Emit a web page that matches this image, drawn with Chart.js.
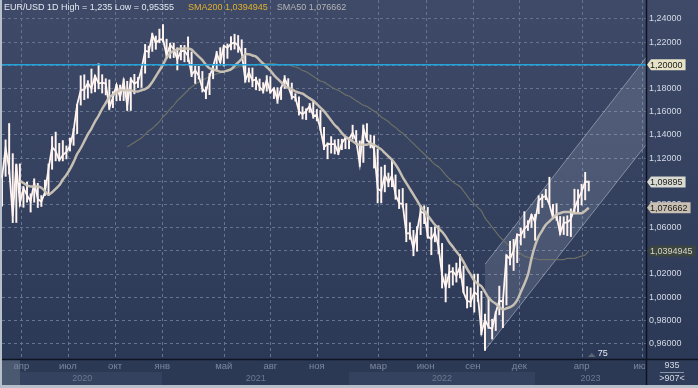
<!DOCTYPE html>
<html lang="ru">
<head>
<meta charset="utf-8">
<title>EUR/USD 1D</title>
<script src="https://cdn.jsdelivr.net/npm/chart.js@4.4.1/dist/chart.umd.min.js"></script>
<style>
  html, body { margin: 0; padding: 0; background: #b7bfca; }
  canvas { display: block; }
</style>
</head>
<body>
<canvas id="priceChart" width="698" height="388"></canvas>
<script>
// weekly slots: trading weeks from 24 Feb 2020, then 5-day slots into the future
const DAY = 86400000;
const slotTimes = [];
for (let i = 0; i < 165; i++) slotTimes.push(Date.UTC(2020, 1, 24) + i * 7 * DAY);
for (let i = 0; i < 16; i++) slotTimes.push(Date.UTC(2023, 3, 24) + i * 5 * DAY);
const weeks = slotTimes.map(t => new Date(t).toISOString().slice(0, 10));

// weekly low / high / close of EUR/USD
const weekLow = [
  1.0778, 1.1035, 1.1054, 1.0636, 1.0637, 1.0778, 1.0768, 1.0812, 1.0727, 1.0812,
  1.0766, 1.0775, 1.0870, 1.0870, 1.1096, 1.1168, 1.1168, 1.1168, 1.1185, 1.1253,
  1.1302, 1.1403, 1.1649, 1.1696, 1.1709, 1.1753, 1.1763, 1.1789, 1.1753, 1.1737,
  1.1612, 1.1627, 1.1685, 1.1689, 1.1688, 1.1602, 1.1603, 1.1746, 1.1800, 1.1801,
  1.1924, 1.2058, 1.2112, 1.2130, 1.2186,
  1.2193, 1.2054, 1.2053, 1.2059, 1.1952, 1.2039, 1.2022, 1.2023, 1.1894, 1.1836,
  1.1873, 1.1762, 1.1704, 1.1739, 1.1876, 1.1955, 1.2015, 1.1986, 1.2052, 1.2125,
  1.2132, 1.2104, 1.2093, 1.1846, 1.1848, 1.1807, 1.1781, 1.1773, 1.1752, 1.1769,
  1.1752, 1.1705, 1.1664, 1.1697, 1.1792, 1.1800, 1.1700, 1.1684, 1.1563, 1.1529,
  1.1524, 1.1586, 1.1535, 1.1513, 1.1432, 1.1264, 1.1186, 1.1235, 1.1228, 1.1222,
  1.1265, 1.1273,
  1.1272, 1.1355, 1.1310, 1.1121, 1.1155, 1.1340, 1.1280, 1.1106, 1.0806, 1.0806,
  1.0901, 1.0945, 1.0945, 1.0837, 1.0757, 1.0770, 1.0471, 1.0492, 1.0350, 1.0389,
  1.0532, 1.0627, 1.0500, 1.0359, 1.0470, 1.0366, 1.0072, 0.9952, 1.0074, 1.0097,
  1.0123, 1.0159, 1.0033, 0.9900, 0.9910, 0.9864, 0.9956, 0.9669, 0.9535, 0.9723,
  0.9632, 0.9705, 0.9841, 0.9730, 0.9926, 1.0271, 1.0223, 1.0291, 1.0443, 1.0504,
  1.0568, 1.0594,
  1.0483, 1.0713, 1.0766, 1.0834, 1.0796, 1.0669, 1.0655, 1.0533, 1.0533, 1.0524,
  1.0516, 1.0712, 1.0714, 1.0788, 1.0832, 1.0909
];
const weekHigh = [
  1.1053, 1.1355, 1.1496, 1.1236, 1.1147, 1.1148, 1.0953, 1.0990, 1.0890, 1.1019,
  1.0980, 1.0875, 1.1008, 1.1147, 1.1384, 1.1422, 1.1325, 1.1349, 1.1303, 1.1371,
  1.1452, 1.1660, 1.1908, 1.1916, 1.1866, 1.1966, 1.1911, 1.2011, 1.1917, 1.1882,
  1.1872, 1.1771, 1.1831, 1.1828, 1.1881, 1.1860, 1.1891, 1.1920, 1.1893, 1.1964,
  1.2178, 1.2163, 1.2273, 1.2250, 1.2310,
  1.2349, 1.2223, 1.2189, 1.2190, 1.2149, 1.2170, 1.2169, 1.2243, 1.2113, 1.1990,
  1.1989, 1.1945, 1.1812, 1.1927, 1.1995, 1.2117, 1.2150, 1.2167, 1.2182, 1.2245,
  1.2266, 1.2255, 1.2218, 1.2144, 1.1975, 1.1975, 1.1896, 1.1880, 1.1849, 1.1909,
  1.1900, 1.1803, 1.1805, 1.1810, 1.1909, 1.1883, 1.1845, 1.1753, 1.1726, 1.1641,
  1.1624, 1.1669, 1.1692, 1.1617, 1.1609, 1.1464, 1.1330, 1.1383, 1.1355, 1.1360,
  1.1361, 1.1386,
  1.1368, 1.1482, 1.1436, 1.1346, 1.1483, 1.1495, 1.1395, 1.1390, 1.1275, 1.1121,
  1.1137, 1.1069, 1.1185, 1.1053, 1.0925, 1.0936, 1.0806, 1.0641, 1.0575, 1.0607,
  1.0787, 1.0787, 1.0773, 1.0601, 1.0606, 1.0615, 1.0462, 1.0200, 1.0278, 1.0254,
  1.0293, 1.0368, 1.0267, 1.0090, 1.0079, 1.0198, 1.0198, 1.0050, 0.9853, 0.9999,
  0.9809, 0.9873, 1.0094, 0.9976, 1.0364, 1.0481, 1.0497, 1.0545, 1.0595, 1.0736,
  1.0659, 1.0713,
  1.0713, 1.0874, 1.0887, 1.0929, 1.1033, 1.0799, 1.0805, 1.0695, 1.0692, 1.0701,
  1.0760, 1.0930, 1.0926, 1.0973, 1.1075, 1.1000
];
const weekClose = [
  1.1026, 1.1284, 1.1104, 1.0693, 1.1141, 1.0804, 1.0936, 1.0875, 1.0823, 1.0983,
  1.0843, 1.0819, 1.0901, 1.1101, 1.1290, 1.1255, 1.1177, 1.1220, 1.1248, 1.1300,
  1.1427, 1.1656, 1.1778, 1.1786, 1.1842, 1.1795, 1.1904, 1.1838, 1.1846, 1.1838,
  1.1631, 1.1716, 1.1826, 1.1717, 1.1860, 1.1646, 1.1875, 1.1835, 1.1855, 1.1962,
  1.2121, 1.2111, 1.2258, 1.2188, 1.2216,
  1.2219, 1.2082, 1.2170, 1.2136, 1.2046, 1.2118, 1.2120, 1.2075, 1.1914, 1.1952,
  1.1904, 1.1794, 1.1762, 1.1899, 1.1983, 1.2098, 1.2020, 1.2164, 1.2145, 1.2180,
  1.2192, 1.2166, 1.2107, 1.1865, 1.1936, 1.1863, 1.1874, 1.1808, 1.1773, 1.1870,
  1.1762, 1.1796, 1.1697, 1.1795, 1.1881, 1.1813, 1.1726, 1.1718, 1.1598, 1.1573,
  1.1599, 1.1644, 1.1559, 1.1567, 1.1445, 1.1289, 1.1318, 1.1315, 1.1315, 1.1238,
  1.1323, 1.1370,
  1.1360, 1.1412, 1.1345, 1.1145, 1.1453, 1.1349, 1.1322, 1.1270, 1.0930, 1.0911,
  1.1051, 1.0983, 1.1046, 1.0876, 1.0808, 1.0798, 1.0546, 1.0548, 1.0411, 1.0562,
  1.0733, 1.0720, 1.0522, 1.0496, 1.0554, 1.0435, 1.0187, 1.0081, 1.0211, 1.0220,
  1.0180, 1.0258, 1.0037, 0.9964, 0.9953, 1.0040, 1.0014, 0.9690, 0.9801, 0.9738,
  0.9722, 0.9862, 0.9965, 0.9959, 1.0355, 1.0325, 1.0398, 1.0535, 1.0530, 1.0585,
  1.0617, 1.0705,
  1.0644, 1.0830, 1.0855, 1.0868, 1.0796, 1.0679, 1.0695, 1.0545, 1.0636, 1.0640,
  1.0669, 1.0760, 1.0839, 1.0903, 1.0993, 1.09895
];

// SMA50 starts at week 5, SMA200 at week 35
const sma50Start = 5;
const sma50 = [
  1.100, 1.098, 1.096, 1.095, 1.095, 1.095, 1.094, 1.091, 1.088, 1.090,
  1.093, 1.096, 1.101, 1.105, 1.110, 1.116, 1.123, 1.128, 1.134, 1.140,
  1.145, 1.151, 1.156, 1.162, 1.167, 1.172, 1.174, 1.176, 1.178, 1.178,
  1.178, 1.178, 1.177, 1.177, 1.178, 1.179, 1.181, 1.185, 1.190, 1.195,
  1.200, 1.206, 1.210, 1.212, 1.213, 1.214, 1.214, 1.214, 1.213, 1.210,
  1.207, 1.204, 1.200, 1.197, 1.196, 1.195, 1.194, 1.194, 1.195, 1.196,
  1.199, 1.202, 1.205, 1.209, 1.209, 1.208, 1.207, 1.204, 1.201, 1.198,
  1.195, 1.191, 1.188, 1.185, 1.182, 1.180, 1.179, 1.177, 1.176, 1.175,
  1.173, 1.171, 1.169, 1.166, 1.163, 1.160, 1.156, 1.152, 1.148, 1.145,
  1.141, 1.138, 1.136, 1.134, 1.132, 1.131, 1.131, 1.131, 1.132, 1.131,
  1.129, 1.127, 1.124, 1.121, 1.118, 1.114, 1.109, 1.103, 1.098, 1.093,
  1.088, 1.083, 1.078, 1.074, 1.070, 1.066, 1.062, 1.059, 1.056, 1.052,
  1.047, 1.043, 1.039, 1.035, 1.030, 1.024, 1.019, 1.014, 1.011, 1.009,
  1.004, 0.999, 0.996, 0.994, 0.991, 0.989, 0.990, 0.991, 0.993, 0.997,
  1.004, 1.011, 1.019, 1.033, 1.044, 1.052, 1.057, 1.062, 1.065, 1.068,
  1.071, 1.072, 1.073, 1.073, 1.073, 1.072, 1.072, 1.072, 1.074, 1.076662
];
const sma200Start = 35;
const sma200 = [
  1.129, 1.131, 1.133, 1.135, 1.137, 1.140, 1.143, 1.145, 1.148, 1.151,
  1.155, 1.158, 1.162, 1.165, 1.169, 1.172, 1.175, 1.178, 1.181, 1.183,
  1.185, 1.187, 1.188, 1.190, 1.191, 1.192, 1.193, 1.194, 1.195, 1.196,
  1.197, 1.198, 1.199, 1.199, 1.200, 1.200, 1.200, 1.2006, 1.201, 1.201,
  1.201, 1.201, 1.200, 1.200, 1.200, 1.200, 1.199, 1.198, 1.197, 1.195,
  1.194, 1.192, 1.190, 1.188, 1.186, 1.185, 1.183, 1.181, 1.179, 1.178,
  1.176, 1.174, 1.173, 1.171, 1.169, 1.167, 1.165, 1.164, 1.162, 1.160,
  1.158, 1.155, 1.153, 1.151, 1.148, 1.146, 1.143, 1.141, 1.138, 1.135,
  1.132, 1.129, 1.126, 1.123, 1.120, 1.117, 1.114, 1.112, 1.109, 1.105,
  1.102, 1.099, 1.097, 1.095, 1.091, 1.087, 1.083, 1.080, 1.077, 1.074,
  1.068, 1.064, 1.060, 1.056, 1.052, 1.049, 1.046, 1.043, 1.040, 1.038,
  1.037, 1.035, 1.034, 1.033, 1.033, 1.032, 1.032, 1.032, 1.032, 1.032,
  1.032, 1.032, 1.032, 1.033, 1.033, 1.033, 1.034, 1.035, 1.036, 1.0394945
];

const levelLine = 1.2;
// rising channel: [start week, end slot], lower and upper bounds at each end
const channelWeeks = ['2022-09-26', '2023-07-08'];
const channelLow = [0.954, 1.131];
const channelHigh = [1.028, 1.206];

const yTicks = [0.96, 0.98, 1.00, 1.02, 1.04, 1.06, 1.08, 1.10, 1.12, 1.14, 1.16, 1.18, 1.20, 1.22, 1.24];
const monthNames = ['янв', 'фев', 'мар', 'апр', 'май', 'июн', 'июл', 'авг', 'сен', 'окт', 'ноя', 'дек'];
const axisMonths = ['2020-04', '2020-07', '2020-10', '2021-01', '2021-05', '2021-08', '2021-11',
  '2022-03', '2022-06', '2022-09', '2022-12', '2023-04', '2023-07'];
const yearLabels = ['2020', '2021', '2022', '2023'];

const FONT = '"Liberation Sans", Arial, sans-serif';
const fmt = v => v.toFixed(5).replace('.', ',');

// fractional slot index of the first trading day of a month
function monthPos(ym) {
  const [y, m] = ym.split('-').map(Number);
  let d = Date.UTC(y, m - 1, 1);
  while ([0, 6].includes(new Date(d).getUTCDay())) d += DAY;
  let k = 0;
  while (k < slotTimes.length - 1 && slotTimes[k + 1] <= d) k++;
  const span = k < slotTimes.length - 1 ? (slotTimes[k + 1] - slotTimes[k]) / DAY : 7;
  const step = span === 7 ? 5 : span;
  return k + Math.min((d - slotTimes[k]) / DAY / step, 1);
}

function pad(arr, start) {
  return Array(start).fill(null).concat(arr);
}
function channelLine(vals) {
  const out = Array(weeks.length).fill(null);
  channelWeeks.forEach((w, i) => { out[weeks.indexOf(w)] = vals[i]; });
  return out;
}

function tag(ctx, x, y, text, bg, fg) {
  ctx.font = '9px ' + FONT;
  const w = ctx.measureText(text).width;
  ctx.beginPath();
  ctx.moveTo(x, y);
  ctx.lineTo(x + 4, y - 5.5);
  ctx.lineTo(x + w + 6, y - 5.5);
  ctx.lineTo(x + w + 6, y + 5.5);
  ctx.lineTo(x + 4, y + 5.5);
  ctx.closePath();
  ctx.fillStyle = bg;
  ctx.fill();
  ctx.fillStyle = fg;
  ctx.textAlign = 'left';
  ctx.textBaseline = 'middle';
  ctx.fillText(text, x + 3, y + 0.5);
}

const backdrop = {
  id: 'backdrop',
  beforeDraw(chart) {
    const { ctx, chartArea: a, width } = chart;
    const xs = chart.scales.x, ys = chart.scales.y;
    ctx.save();
    // plot background
    const g = ctx.createLinearGradient(0, 0, 0, a.bottom);
    g.addColorStop(0, '#3e4a68');
    g.addColorStop(1, '#2b3856');
    ctx.fillStyle = g;
    ctx.fillRect(a.left, 0, width - a.left, a.bottom);
    // time axis rows
    ctx.fillStyle = '#2c3955';
    ctx.fillRect(a.left, a.bottom, width - a.left, 26);
    yearLabels.forEach((yr, i) => {
      const x0 = i === 0 ? a.left : xs.getPixelForValue(monthPos(yr + '-01'));
      const x1 = i === yearLabels.length - 1 ? a.right : xs.getPixelForValue(monthPos(yearLabels[i + 1] + '-01'));
      ctx.fillStyle = i % 2 === 0 ? '#34425f' : '#2c3955';
      ctx.fillRect(x0, a.bottom + 13, x1 - x0, 13);
    });
    ctx.fillStyle = '#4a5870';
    ctx.fillRect(a.left, a.bottom, 18, 26);
    ctx.fillStyle = '#2f3c59';
    ctx.fillRect(a.right, a.bottom, width - a.right, 26);
    // dashed grid
    ctx.strokeStyle = '#66748f';
    ctx.lineWidth = 1;
    ctx.setLineDash([3, 3]);
    yTicks.forEach(v => {
      const y = Math.round(ys.getPixelForValue(v)) + 0.5;
      ctx.beginPath(); ctx.moveTo(a.left, y); ctx.lineTo(a.right, y); ctx.stroke();
    });
    axisMonths.forEach(ym => {
      const x = Math.round(xs.getPixelForValue(monthPos(ym))) + 0.5;
      ctx.beginPath(); ctx.moveTo(x, 0); ctx.lineTo(x, a.bottom); ctx.stroke();
    });
    ctx.restore();
  },
  afterDatasetsDraw(chart) {
    const { ctx, chartArea: a } = chart;
    const y = chart.scales.y.getPixelForValue(levelLine);
    ctx.save();
    ctx.strokeStyle = '#23a3dc';
    ctx.lineWidth = 1.5;
    ctx.beginPath(); ctx.moveTo(a.left, y); ctx.lineTo(a.right, y); ctx.stroke();
    ctx.restore();
  },
  afterDraw(chart) {
    const { ctx, chartArea: a, width } = chart;
    const xs = chart.scales.x, ys = chart.scales.y;
    const lastClose = weekClose[weekClose.length - 1];
    ctx.save();
    // separators
    ctx.strokeStyle = '#0e1320';
    ctx.lineWidth = 1.5;
    ctx.beginPath(); ctx.moveTo(a.right + 0.5, 0); ctx.lineTo(a.right + 0.5, a.bottom + 26); ctx.stroke();
    ctx.beginPath(); ctx.moveTo(a.left, a.bottom + 0.5); ctx.lineTo(width, a.bottom + 0.5); ctx.stroke();
    // price axis labels
    ctx.font = '9px ' + FONT;
    ctx.fillStyle = '#d3d9e5';
    ctx.textAlign = 'left';
    ctx.textBaseline = 'middle';
    yTicks.forEach(v => ctx.fillText(fmt(v), a.right + 3, ys.getPixelForValue(v) + 0.5));
    tag(ctx, a.right + 1, ys.getPixelForValue(levelLine), fmt(levelLine), '#e6e3c6', '#1b1b1b');
    tag(ctx, a.right + 1, ys.getPixelForValue(lastClose), fmt(lastClose), '#d9dad2', '#1b1b1b');
    tag(ctx, a.right + 1, ys.getPixelForValue(sma50[sma50.length - 1]), '1,076662', '#c9c0b3', '#1b1b1b');
    tag(ctx, a.right + 1, ys.getPixelForValue(sma200[sma200.length - 1]), '1,0394945', '#3d4540', '#d6d6c6');
    // time axis labels, clipped to the plot width
    ctx.save();
    ctx.beginPath();
    ctx.rect(a.left, a.bottom, a.right - a.left - 1, 26);
    ctx.clip();
    ctx.textAlign = 'center';
    ctx.font = '9.5px ' + FONT;
    ctx.fillStyle = '#7c879d';
    axisMonths.forEach(ym => {
      const m = Number(ym.slice(5)) - 1;
      ctx.fillText(monthNames[m], xs.getPixelForValue(monthPos(ym)), a.bottom + 7);
    });
    ctx.fillStyle = '#6d7991';
    ctx.font = '9px ' + FONT;
    yearLabels.forEach((yr, i) => {
      const x0 = i === 0 ? a.left : xs.getPixelForValue(monthPos(yr + '-01'));
      const x1 = i === yearLabels.length - 1 ? a.right : xs.getPixelForValue(monthPos(yearLabels[i + 1] + '-01'));
      ctx.fillText(yr, (x0 + x1) / 2, a.bottom + 19.5);
    });
    ctx.restore();
    // right-bottom counters
    ctx.textAlign = 'center';
    ctx.font = '9px ' + FONT;
    ctx.fillStyle = '#d3d9e5';
    const cx = (a.right + width) / 2;
    ctx.fillText('935', cx, a.bottom + 7);
    ctx.fillText('>907<', cx, a.bottom + 20);
    ctx.strokeStyle = '#8a94a8';
    ctx.lineWidth = 1;
    ctx.beginPath(); ctx.moveTo(cx - 12, a.bottom + 13.5); ctx.lineTo(cx + 12, a.bottom + 13.5); ctx.stroke();
    // marker under last bar
    const lx = xs.getPixelForValue(weekLow.length - 1);
    ctx.fillStyle = '#5d6577';
    ctx.beginPath();
    ctx.moveTo(lx - 1, a.bottom - 2); ctx.lineTo(lx + 3, a.bottom - 6); ctx.lineTo(lx + 7, a.bottom - 2);
    ctx.closePath(); ctx.fill();
    ctx.fillStyle = '#e6ebf4';
    ctx.textAlign = 'left';
    ctx.fillText('75', lx + 9, a.bottom - 5);
    // title
    ctx.font = '9px ' + FONT;
    ctx.textBaseline = 'middle';
    let x = a.left + 2;
    const parts = [
      ['EUR/USD 1D High = 1,235 Low = 0,95355', '#e4e8f0', 14],
      ['SMA200 1,0394945', '#e2b22c', 9],
      ['SMA50 1,076662', '#b4b4b4', 0]
    ];
    parts.forEach(([t, c, gap]) => {
      ctx.fillStyle = c;
      ctx.fillText(t, x, 8);
      x += ctx.measureText(t).width + gap;
    });
    ctx.restore();
  }
};

new Chart(document.getElementById('priceChart').getContext('2d'), {
  type: 'bar',
  data: {
    labels: weeks,
    datasets: [
      {
        type: 'line',
        label: 'SMA50',
        data: pad(sma50, sma50Start),
        borderColor: 'rgba(206,197,183,0.95)',
        borderWidth: 2.5,
        pointRadius: 0,
        tension: 0.3,
        order: 1
      },
      {
        type: 'line',
        label: 'EUR/USD close',
        data: weekClose,
        borderColor: '#fff4f0',
        borderWidth: 1.8,
        pointRadius: 0,
        order: 2
      },
      {
        label: 'EUR/USD range',
        data: weekLow.map((lo, i) => [lo, weekHigh[i]]),
        backgroundColor: '#fff4f0',
        barPercentage: 0.55,
        categoryPercentage: 1,
        order: 2
      },
      {
        type: 'line',
        label: 'SMA200',
        data: pad(sma200, sma200Start),
        borderColor: 'rgba(112,116,104,0.9)',
        borderWidth: 1.2,
        pointRadius: 0,
        tension: 0.3,
        order: 3
      },
      {
        type: 'line',
        label: 'channel top',
        data: channelLine(channelHigh),
        spanGaps: true,
        borderColor: 'rgba(185,194,210,0.55)',
        borderWidth: 1,
        pointRadius: 0,
        fill: '+1',
        backgroundColor: 'rgba(225,232,245,0.14)',
        order: 5
      },
      {
        type: 'line',
        label: 'channel bottom',
        data: channelLine(channelLow),
        spanGaps: true,
        borderColor: 'rgba(185,194,210,0.55)',
        borderWidth: 1,
        pointRadius: 0,
        fill: false,
        order: 5
      }
    ]
  },
  options: {
    responsive: false,
    animation: false,
    layout: { padding: { left: 2 } },
    plugins: { legend: { display: false }, tooltip: { enabled: false } },
    scales: {
      x: {
        offset: false,
        ticks: { display: false },
        grid: { display: false },
        border: { display: false },
        afterFit: s => { s.height = 29; }
      },
      y: {
        position: 'right',
        min: 0.9463,
        max: 1.2558,
        ticks: { display: false },
        grid: { display: false },
        border: { display: false },
        afterFit: s => { s.width = 52; }
      }
    }
  },
  plugins: [backdrop]
});
</script>
</body>
</html>
